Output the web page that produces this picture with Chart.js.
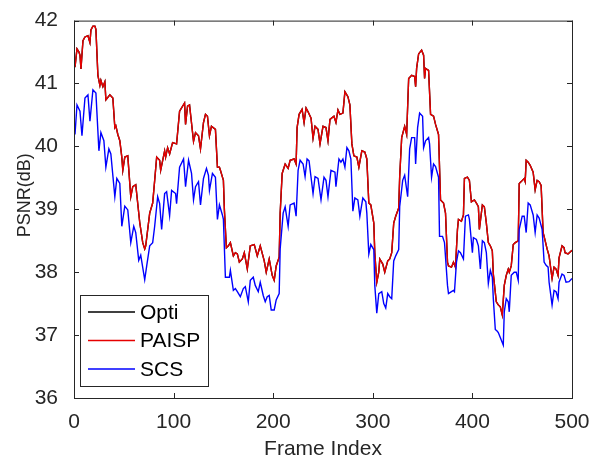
<!DOCTYPE html>
<html>
<head>
<meta charset="utf-8">
<script src="https://cdn.jsdelivr.net/npm/chart.js@4.4.1/dist/chart.umd.min.js"></script>
<style>
  body{margin:0;background:#fff;}
  #wrap{width:605px;height:466px;}
</style>
</head>
<body>
<div id="wrap"><canvas id="psnrChart" width="605" height="466"></canvas></div>
<script>
// frames (PAISP / Opti share the same samples)
const paispFrames = [1,3,5,6,7,9,11,14,16,17,19,21,22,24,26,27,29,31,32,36,39,41,42,44,46,48,49,51,54,57,59,62,66,69,71,72,76,79,81,83,86,87,91,92,94,96,99,103,106,111,112,114,116,120,122,125,127,130,132,134,136,138,142,144,146,147,150,151,153,155,157,160,162,164,166,169,171,174,177,181,184,187,191,193,196,199,201,203,206,207,209,212,215,217,221,223,224,226,229,231,233,235,238,240,242,245,247,250,253,255,257,261,263,265,267,270,272,275,277,279,281,284,286,289,292,294,296,298,301,302,304,306,307,310,312,315,317,319,321,323,326,327,329,332,334,336,339,342,343,344,346,349,351,352,353,356,358,361,363,366,368,371,373,375,376,379,381,383,385,386,389,391,392,395,397,399,402,404,406,407,410,412,414,416,418,420,421,424,426,428,430,432,434,436,437,439,441,443,446,447,449,452,453,454,456,458,461,463,465,467,469,471,472,475,477,480,482,484,486,487,490,492,493,496,500];
const paispPsnr = [41.26,41.55,41.50,41.45,41.23,41.68,41.74,41.76,41.65,41.85,41.91,41.91,41.86,41.13,40.97,41.05,40.95,41.03,40.74,40.82,40.77,40.30,40.33,40.19,40.09,39.83,39.62,39.83,39.85,39.20,39.36,39.39,38.79,38.47,38.37,38.42,38.94,39.10,39.46,39.83,39.78,39.62,39.93,39.83,39.98,39.88,40.06,40.04,40.56,40.69,40.35,40.64,40.66,40.08,40.22,40.17,39.96,40.38,40.51,40.48,40.17,40.32,40.27,39.67,39.67,39.62,39.46,38.99,38.39,38.42,38.47,38.26,38.31,38.29,38.16,38.21,38.31,38.05,38.42,38.44,38.26,38.42,38.18,38.00,38.21,37.95,37.87,38.10,38.24,38.94,39.57,39.72,39.65,39.78,39.80,39.72,40.30,40.51,40.59,40.38,40.61,40.55,40.45,40.13,40.32,40.27,40.04,40.32,40.30,40.09,40.43,40.48,40.38,40.58,40.51,40.53,40.87,40.79,40.66,40.04,39.85,39.83,39.67,39.93,39.91,39.80,39.10,39.07,38.78,38.31,37.84,38.00,38.21,38.13,38.00,38.18,38.21,38.31,38.78,38.89,39.02,39.52,40.14,40.32,40.19,41.08,41.13,41.11,40.95,41.24,41.47,41.53,41.45,41.08,41.24,41.21,40.51,40.48,40.35,40.19,39.15,39.10,38.94,38.16,38.10,38.08,38.16,38.08,38.68,38.84,38.81,38.91,39.49,39.51,39.46,39.12,39.15,39.10,39.04,38.68,39.07,39.04,38.78,38.47,38.42,38.34,37.97,37.53,37.48,37.45,37.32,37.79,37.95,38.05,38.00,38.10,38.44,38.47,38.50,39.41,39.44,39.49,39.44,39.78,39.75,39.70,39.59,39.31,39.46,39.44,39.38,38.63,38.57,38.37,38.26,37.90,38.08,38.05,37.95,38.23,38.42,38.39,38.31,38.29,38.35];
// Opti sits right under PAISP for the whole clip
const optiPsnr = [41.26,41.55,41.50,41.45,41.23,41.68,41.74,41.76,41.65,41.85,41.91,41.91,41.86,41.13,40.97,41.05,40.95,41.03,40.74,40.82,40.77,40.30,40.33,40.19,40.09,39.83,39.62,39.83,39.85,39.20,39.36,39.39,38.79,38.47,38.37,38.42,38.94,39.10,39.46,39.83,39.78,39.62,39.93,39.83,39.98,39.88,40.06,40.04,40.56,40.69,40.35,40.64,40.66,40.08,40.22,40.17,39.96,40.38,40.51,40.48,40.17,40.32,40.27,39.67,39.67,39.62,39.46,38.99,38.39,38.42,38.47,38.26,38.31,38.29,38.16,38.21,38.31,38.05,38.42,38.44,38.26,38.42,38.18,38.00,38.21,37.95,37.87,38.10,38.24,38.94,39.57,39.72,39.65,39.78,39.80,39.72,40.30,40.51,40.59,40.38,40.61,40.55,40.45,40.13,40.32,40.27,40.04,40.32,40.30,40.09,40.43,40.48,40.38,40.58,40.51,40.53,40.87,40.79,40.66,40.04,39.85,39.83,39.67,39.93,39.91,39.80,39.10,39.07,38.78,38.31,37.84,38.00,38.21,38.13,38.00,38.18,38.21,38.31,38.78,38.89,39.02,39.52,40.14,40.32,40.19,41.08,41.13,41.11,40.95,41.24,41.47,41.53,41.45,41.08,41.24,41.21,40.51,40.48,40.35,40.19,39.15,39.10,38.94,38.16,38.10,38.08,38.16,38.08,38.68,38.84,38.81,38.91,39.49,39.51,39.46,39.12,39.15,39.10,39.04,38.68,39.07,39.04,38.78,38.47,38.42,38.34,37.97,37.53,37.48,37.45,37.32,37.79,37.95,38.05,38.00,38.10,38.44,38.47,38.50,39.41,39.44,39.49,39.44,39.78,39.75,39.70,39.59,39.31,39.46,39.44,39.38,38.63,38.57,38.37,38.26,37.90,38.08,38.05,37.95,38.23,38.42,38.39,38.31,38.29,38.35];

const scsFrames = [1,3,6,8,11,14,16,19,22,25,27,30,32,35,37,41,43,46,48,51,54,57,60,62,65,67,71,73,76,79,81,84,86,88,91,93,96,98,102,103,106,110,112,115,118,120,122,125,127,130,133,135,136,139,142,144,146,149,150,152,156,157,160,162,164,167,170,172,175,177,180,182,185,187,190,192,194,196,198,201,203,206,207,210,212,215,217,221,223,225,227,230,232,234,236,238,240,242,245,248,251,253,255,258,262,263,266,268,270,272,274,276,278,280,282,285,287,290,293,294,296,298,301,302,304,306,309,311,313,315,317,319,321,323,326,327,330,332,335,337,339,342,343,345,347,350,351,353,356,357,359,361,363,366,367,370,372,375,376,379,381,382,384,386,388,391,393,396,397,400,401,404,406,408,410,412,414,416,418,420,421,423,425,426,428,431,432,434,436,437,439,442,444,446,447,450,452,454,456,458,461,463,465,467,470,472,474,476,477,480,482,484,486,487,490,492,494,497,500];
const scsPsnr = [40.19,40.66,40.56,40.17,40.77,40.82,40.40,40.90,40.85,39.93,40.22,40.09,39.67,39.96,39.88,39.20,39.49,39.41,38.73,39.05,38.99,38.47,38.73,38.63,38.19,38.27,37.88,38.10,38.42,38.47,38.73,39.20,39.09,38.68,39.25,39.28,38.90,39.30,39.25,39.09,39.67,39.80,39.36,39.78,39.57,39.15,39.36,39.44,39.07,39.49,39.65,39.54,39.30,39.57,39.51,38.84,39.07,38.91,38.84,37.92,37.92,38.03,37.71,37.74,37.69,37.61,37.74,37.77,37.53,37.87,37.92,37.79,37.69,37.84,37.63,37.53,37.61,37.63,37.40,37.40,37.56,37.66,38.37,38.94,39.04,38.73,39.07,39.10,38.89,39.62,39.78,39.72,39.52,39.80,39.77,39.51,39.25,39.52,39.49,39.15,39.51,39.46,39.20,39.62,39.59,39.36,39.80,39.75,39.80,39.67,39.98,39.93,39.80,38.97,39.18,39.15,38.89,39.18,39.12,38.94,38.29,38.44,38.36,37.79,37.35,37.66,37.69,37.50,37.43,37.66,37.61,37.58,38.18,38.26,38.36,39.04,39.46,39.54,39.20,39.96,40.14,40.14,39.72,40.30,40.53,40.48,39.98,40.09,40.14,40.04,39.51,39.72,39.68,39.51,38.57,38.57,38.47,37.79,37.66,37.69,37.71,37.69,38.16,38.34,38.31,38.21,38.89,38.91,38.84,38.31,38.55,38.52,38.42,38.05,38.50,38.47,38.31,37.82,38.03,37.92,37.58,37.09,37.06,37.04,36.96,36.84,37.37,37.58,37.53,37.37,37.95,38.00,38.00,37.87,38.68,38.89,38.89,38.63,39.10,39.07,38.91,38.63,38.91,38.86,38.68,38.16,38.11,38.08,37.84,37.48,37.71,37.69,37.58,37.84,37.97,37.95,37.84,37.85,37.90];

const xTicks = [0,100,200,300,400,500];
const yTicks = [36,37,38,39,40,41,42];
const seriesNames = ["Opti","PAISP","SCS"];
const seriesColors = ["#000000","#e60000","#0000ff"];
const yTitle = "PSNR(dB)";

const axisColor = "#262626";
const fontFam = "'Liberation Sans', Arial, Helvetica, sans-serif";

function pts(frames, vals){ return frames.map((f,i)=>({x:f, y:vals[i]})); }

// matlab-ish box, inward ticks, y label and legend inside the axes
const boxPlugin = {
  id: "matlabBox",
  afterDatasetsDraw(chart){
    const {ctx, chartArea:a, scales} = chart;
    const xs = scales.x, ys = scales.y;
    ctx.save();
    ctx.strokeStyle = axisColor;
    ctx.lineWidth = 1;
    ctx.strokeRect(a.left+0.5, a.top+0.5, a.right-a.left, a.bottom-a.top);
    const tl = 5;
    ctx.beginPath();
    xTicks.forEach(v=>{
      const px = Math.round(xs.getPixelForValue(v))+0.5;
      ctx.moveTo(px, a.bottom); ctx.lineTo(px, a.bottom-tl);
      ctx.moveTo(px, a.top); ctx.lineTo(px, a.top+tl);
    });
    yTicks.forEach(v=>{
      const py = Math.round(ys.getPixelForValue(v))+0.5;
      ctx.moveTo(a.left, py); ctx.lineTo(a.left+tl, py);
      ctx.moveTo(a.right, py); ctx.lineTo(a.right-tl, py);
    });
    ctx.stroke();
    ctx.restore();

    // y label sits a bit above the middle in the original
    ctx.save();
    ctx.translate(25, (a.top+a.bottom)/2 - 14);
    ctx.rotate(-Math.PI/2);
    ctx.font = "18px " + fontFam;
    ctx.fillStyle = axisColor;
    ctx.textAlign = "center";
    ctx.textBaseline = "middle";
    ctx.fillText(yTitle, 0, 0);
    ctx.restore();

    // legend box
    const lx = a.left+6, ly = a.bottom-103, lw = 128, lh = 91;
    ctx.save();
    ctx.fillStyle = "#fff";
    ctx.fillRect(lx, ly, lw, lh);
    ctx.strokeStyle = axisColor;
    ctx.lineWidth = 1;
    ctx.strokeRect(lx+0.5, ly+0.5, lw, lh);
    ctx.restore();

    for(let i=0;i<seriesNames.length;i++){
      const yy = ly + 17 + i*28.5;
      ctx.save();
      ctx.beginPath();
      ctx.strokeStyle = seriesColors[i];
      ctx.lineWidth = 1.3;
      ctx.moveTo(lx+8, yy);
      ctx.lineTo(lx+55, yy);
      ctx.stroke();
      ctx.restore();

      ctx.save();
      ctx.font = "21px " + fontFam;
      ctx.textBaseline = "middle";
      ctx.textAlign = "left";
      ctx.fillStyle = "#000";
      ctx.fillText(seriesNames[i], lx+60, yy+1);
      ctx.restore();
    }
  }
};

new Chart(document.getElementById("psnrChart").getContext("2d"), {
  type: "line",
  data: {
    datasets: [
      {label: seriesNames[0], data: pts(paispFrames, optiPsnr), borderColor: seriesColors[0], order: 2},
      {label: seriesNames[1], data: pts(paispFrames, paispPsnr), borderColor: seriesColors[1], order: 1},
      {label: seriesNames[2], data: pts(scsFrames, scsPsnr), borderColor: seriesColors[2], order: 0}
    ].map(d=>Object.assign(d, {borderWidth: 1.4, pointRadius: 0, tension: 0, fill: false}))
  },
  options: {
    responsive: false,
    animation: false,
    events: [],
    layout: {padding: {left: 0, right: 33, top: 15, bottom: 0}},
    plugins: {legend: {display: false}, tooltip: {enabled: false}},
    scales: {
      x: {
        type: "linear", min: 0, max: 500,
        afterBuildTicks: s => { s.ticks = xTicks.map(v=>({value:v})); },
        afterFit: s => { s.height = 68; },
        grid: {display: false},
        border: {display: false},
        ticks: {color: axisColor, font: {family: fontFam, size: 21}, padding: 4, maxRotation: 0},
        title: {display: true, text: "Frame Index", color: axisColor, font: {family: fontFam, size: 21}, padding: {top: 2, bottom: 4}}
      },
      y: {
        type: "linear", min: 36, max: 42,
        afterBuildTicks: s => { s.ticks = yTicks.map(v=>({value:v})); },
        afterFit: s => { s.width = 74; },
        grid: {display: false},
        border: {display: false},
        ticks: {color: axisColor, font: {family: fontFam, size: 21}, padding: 8}
      }
    }
  },
  plugins: [boxPlugin]
});
</script>
</body>
</html>
